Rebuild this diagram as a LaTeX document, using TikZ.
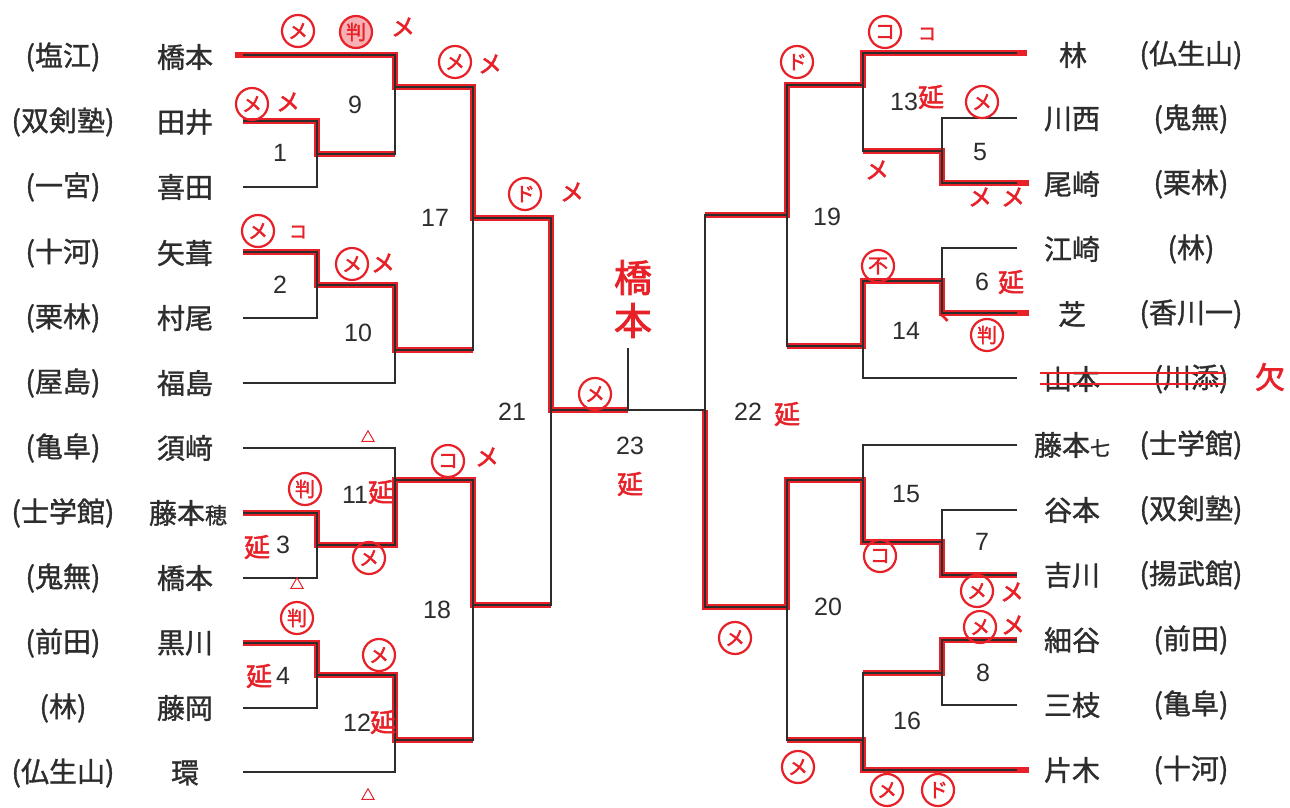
\documentclass[tikz,border=0pt]{standalone}
\usepackage{fontspec}
\setmainfont{Liberation Sans}
\newfontfamily\jp{Noto Sans CJK JP}
\newfontfamily\jpb[FakeBold=1.2]{Noto Sans CJK JP}
\newfontfamily\jph[FakeBold=2]{Noto Sans CJK JP}
\definecolor{ink}{RGB}{45,45,45}
\definecolor{hand}{RGB}{232,32,40}
\tikzset{
 ln/.style={line width=2.2pt, draw=ink},
 win/.style={line width=6.5pt, draw=hand},
 nm/.style={font=\jpb\fontsize{28}{30}\selectfont, text=ink, inner sep=0pt, anchor=center},
 numlab/.style={font=\fontsize{25}{25}\selectfont, text=ink, inner sep=0pt},
 circ/.style={circle, draw=hand, line width=2.2pt, text=hand, inner sep=0pt, minimum size=32pt, font=\jph\fontsize{20}{20}\selectfont},
 mk/.style={text=hand, inner sep=0pt, font=\jph\fontsize{24}{24}\selectfont},
 enc/.style={text=hand, inner sep=0pt, font=\jph\fontsize{26}{26}\selectfont},
 tri/.style={text=hand, inner sep=0pt, font=\jph\fontsize{14}{14}\selectfont},
}
\begin{document}
\begin{tikzpicture}[x=1pt,y=-1pt]
\useasboundingbox[fill=white] (0,0) rectangle (1290,808);
% ---- left player line starts
\coordinate (a1) at (243,55);  \coordinate (a2) at (243,121);
\coordinate (a3) at (243,187); \coordinate (a4) at (243,252);
\coordinate (a5) at (243,318); \coordinate (a6) at (243,383);
\coordinate (a7) at (243,448); \coordinate (a8) at (243,513);
\coordinate (a9) at (243,578); \coordinate (a10) at (243,643);
\coordinate (a11) at (243,708); \coordinate (a12) at (243,772);
% ---- right player line ends
\coordinate (b1) at (1017,53);  \coordinate (b2) at (1017,118);
\coordinate (b3) at (1017,183); \coordinate (b4) at (1017,248);
\coordinate (b5) at (1017,313); \coordinate (b6) at (1017,378);
\coordinate (b7) at (1017,445); \coordinate (b8) at (1017,510);
\coordinate (b9) at (1017,575); \coordinate (b10) at (1017,640);
\coordinate (b11) at (1017,705); \coordinate (b12) at (1017,770);
% ---- match points
\coordinate (m1) at (317,154);  \coordinate (m2) at (317,285);
\coordinate (m3) at (317,545);  \coordinate (m4) at (317,675);
\coordinate (m9) at (395,87);   \coordinate (m10) at (395,350);
\coordinate (m11) at (395,480); \coordinate (m12) at (395,740);
\coordinate (m17) at (473,218); \coordinate (m18) at (473,605);
\coordinate (m21) at (551,410);
\coordinate (m5) at (942,151);  \coordinate (m6) at (942,281);
\coordinate (m7) at (942,542);  \coordinate (m8) at (942,673);
\coordinate (m13) at (863,85);  \coordinate (m14) at (863,346);
\coordinate (m15) at (863,480); \coordinate (m16) at (863,740);
\coordinate (m19) at (787,215); \coordinate (m20) at (787,607);
\coordinate (m22) at (705,410);
\coordinate (champ) at (628,348);
% ---- red winner paths
\draw[win] ([xshift=-8pt]a1) -| (m9) -- (m9 -| m17) -- (m17) -- (m17 -| m21) -- (m21) -- (m21 -| champ);
\draw[win] (a2) -| (m1) -- (m1 -| m9);
\draw[win] (a4) -| (m2) -- (m2 -| m10) -- (m10) -- (m10 -| m17);
\draw[win] (a8) -| (m3) -- (m3 -| m11) -- (m11) -- (m11 -| m18) -- (m18) -- (m18 -| m21);
\draw[win] (a10) -| (m4) -- (m4 -| m12) -- (m12) -- (m12 -| m18);
\draw[win] ([xshift=10pt]b1) -| (m13) -- (m13 -| m19) -- (m19) -- (m19 -| m22);
\draw[win] ([xshift=12pt]b3) -| (m5) -- (m5 -| m13);
\draw[win] ([xshift=12pt]b5) -| (m6) -- (m6 -| m14) -- (m14) -- (m14 -| m19);
\draw[win] (b9) -| (m7) -- (m7 -| m15) -- (m15) -- (m15 -| m20) -- (m20) -- (m20 -| m22) -- (m22);
\draw[win] (b10) -| (m8) -- (m8 -| m16);
\draw[win] ([xshift=12pt]b12) -| (m16) -- (m16 -| m20);
% ---- black bracket
\draw[ln] (a2) -| (m1) |- (a3);
\draw[ln] (a4) -| (m2) |- (a5);
\draw[ln] (a8) -| (m3) |- (a9);
\draw[ln] (a10) -| (m4) |- (a11);
\draw[ln] (a1) -| (m9) |- (m1);
\draw[ln] (m2) -| (m10) |- (a6);
\draw[ln] (a7) -| (m11) |- (m3);
\draw[ln] (m4) -| (m12) |- (a12);
\draw[ln] (m9) -| (m17) |- (m10);
\draw[ln] (m11) -| (m18) |- (m12);
\draw[ln] (m17) -| (m21) |- (m18);
\draw[ln] (m21) -- (m22);
\draw[ln] (champ) -- (champ |- m21);
\draw[ln] (b2) -| (m5) |- (b3);
\draw[ln] (b4) -| (m6) |- (b5);
\draw[ln] (b8) -| (m7) |- (b9);
\draw[ln] (b10) -| (m8) |- (b11);
\draw[ln] (b1) -| (m13) |- (m5);
\draw[ln] (m6) -| (m14) |- (b6);
\draw[ln] (b7) -| (m15) |- (m7);
\draw[ln] (m8) -| (m16) |- (b12);
\draw[ln] (m13) -| (m19) |- (m14);
\draw[ln] (m15) -| (m20) |- (m16);
\draw[ln] (m19) -| (m22) |- (m20);
% ---- left names
\node[nm] (g1) at (63,57) {(塩江)};   \node[nm] (p1) at (185,57) {橋本};
\node[nm] (g2) at (63,122) {(双剣塾)}; \node[nm] (p2) at (185,122) {田井};
\node[nm] (g3) at (63,187) {(一宮)};   \node[nm] (p3) at (185,187) {喜田};
\node[nm] (g4) at (63,253) {(十河)};   \node[nm] (p4) at (185,253) {矢葺};
\node[nm] (g5) at (63,318) {(栗林)};   \node[nm] (p5) at (185,318) {村尾};
\node[nm] (g6) at (63,383) {(屋島)};   \node[nm] (p6) at (185,383) {福島};
\node[nm] (g7) at (63,448) {(亀阜)};   \node[nm] (p7) at (185,448) {須﨑};
\node[nm] (g8) at (63,513) {(士学館)}; \node[nm] (p8) at (188,513) {藤本{\fontsize{22}{22}\selectfont 穂}};
\node[nm] (g9) at (63,578) {(鬼無)};   \node[nm] (p9) at (185,578) {橋本};
\node[nm] (g10) at (63,643) {(前田)};  \node[nm] (p10) at (185,643) {黒川};
\node[nm] (g11) at (63,708) {(林)};    \node[nm] (p11) at (185,708) {藤岡};
\node[nm] (g12) at (63,773) {(仏生山)};\node[nm] (p12) at (185,773) {環};
% ---- right names
\node[nm] (q1) at (1073,55) {林};     \node[nm] (h1) at (1191,55) {(仏生山)};
\node[nm] (q2) at (1072,119) {川西};  \node[nm] (h2) at (1191,119) {(鬼無)};
\node[nm] (q3) at (1072,184) {尾崎};  \node[nm] (h3) at (1191,184) {(栗林)};
\node[nm] (q4) at (1072,249) {江崎};  \node[nm] (h4) at (1191,249) {(林)};
\node[nm] (q5) at (1072,314) {芝};    \node[nm] (h5) at (1191,314) {(香川一)};
\node[nm] (q6) at (1072,379) {山本};  \node[nm] (h6) at (1191,379) {(川添)};
\node[nm] (q7) at (1072,445) {藤本{\fontsize{20}{20}\selectfont 七}}; \node[nm] (h7) at (1191,445) {(士学館)};
\node[nm] (q8) at (1072,510) {谷本};  \node[nm] (h8) at (1191,510) {(双剣塾)};
\node[nm] (q9) at (1072,575) {吉川};  \node[nm] (h9) at (1191,575) {(揚武館)};
\node[nm] (q10) at (1072,640) {細谷}; \node[nm] (h10) at (1191,640) {(前田)};
\node[nm] (q11) at (1072,705) {三枝}; \node[nm] (h11) at (1191,705) {(亀阜)};
\node[nm] (q12) at (1072,770) {片木}; \node[nm] (h12) at (1191,770) {(十河)};
% ---- match numbers
\node[numlab] (n9) at (355,105) {9};   \node[numlab] (n1) at (280,153) {1};
\node[numlab] (n17) at (435,218) {17}; \node[numlab] (n2) at (280,285) {2};
\node[numlab] (n10) at (358,333) {10}; \node[numlab] (n21) at (512,412) {21};
\node[numlab] (n11) at (355,495) {11}; \node[numlab] (n3) at (283,545) {3};
\node[numlab] (n18) at (437,610) {18}; \node[numlab] (n4) at (283,676) {4};
\node[numlab] (n12) at (357,723) {12}; \node[numlab] (n23) at (630,446) {23};
\node[numlab] (n13) at (904,102) {13}; \node[numlab] (n5) at (980,152) {5};
\node[numlab] (n19) at (827,217) {19}; \node[numlab] (n6) at (982,282) {6};
\node[numlab] (n14) at (906,331) {14}; \node[numlab] (n22) at (748,412) {22};
\node[numlab] (n15) at (906,494) {15}; \node[numlab] (n7) at (982,542) {7};
\node[numlab] (n20) at (828,607) {20}; \node[numlab] (n8) at (983,673) {8};
\node[numlab] (n16) at (907,721) {16};
% ---- red annotations, left
\node[circ] (c1) at (298,31) {メ};
\node[circ, fill=hand!35] (c2) at (356,32) {判};
\node[mk] (x1) at (403,27) {メ};
\node[circ] (c3) at (252,104) {メ};
\node[mk] (x2) at (288,102) {メ};
\node[circ] (c4) at (258,231) {メ};
\node[mk, font=\jph\fontsize{18}{18}\selectfont] (k1) at (298,232) {コ};
\node[circ] (c5) at (352,264) {メ};
\node[mk] (x3) at (383,263) {メ};
\node[circ] (c6) at (455,62) {メ};
\node[mk] (x4) at (490,64) {メ};
\node[circ] (c7) at (525,194) {ド};
\node[mk] (x5) at (572,192) {メ};
\node[circ] (c8) at (595,394) {メ};
\node[text=hand, inner sep=0pt, align=center, font=\jph\fontsize{38}{43}\selectfont] (win) at (633,299) {橋\\本};
\node[enc] (e23) at (630,484) {延};
\node[enc] (e22) at (787,414) {延};
\node[circ] (c9) at (735,638) {メ};
\node[circ] (c10) at (798,767) {メ};
\node[tri] (t1) at (368,436) {△};
\node[circ] (c11) at (305,489) {判};
\node[enc] (e11) at (381,492) {延};
\node[enc] (e3) at (257,547) {延};
\node[circ] (c12) at (369,558) {メ};
\node[tri] (t2) at (297,583) {△};
\node[circ] (c13) at (297,618) {判};
\node[circ] (c14) at (379,655) {メ};
\node[enc] (e4) at (259,676) {延};
\node[enc] (e12) at (383,722) {延};
\node[tri] (t3) at (368,794) {△};
\node[circ] (c15) at (448,461) {コ};
\node[mk] (x6) at (487,457) {メ};
% ---- red annotations, right
\node[circ] (c16) at (797,62) {ド};
\node[circ] (c17) at (885,32) {コ};
\node[mk, font=\jph\fontsize{18}{18}\selectfont] (k2) at (927,34) {コ};
\node[enc] (e13) at (931,97) {延};
\node[circ] (c18) at (982,102) {メ};
\node[mk] (x7) at (877,170) {メ};
\node[mk] (x8) at (980,197) {メ};
\node[mk] (x9) at (1013,197) {メ};
\node[circ] (c19) at (878,266) {不};
\node[enc] (e6) at (1011,282) {延};
\node[mk] (dt) at (952,318) {、};
\node[circ] (c20) at (987,335) {判};
\coordinate (s1) at (1040,373); \coordinate (s2) at (1225,373);
\coordinate (s3) at (1040,384); \coordinate (s4) at (1225,384);
\draw[hand, line width=2.4pt] (s1) -- (s2);
\draw[hand, line width=2.4pt] (s3) -- (s4);
\node[enc, font=\jph\fontsize{30}{30}\selectfont] (kt) at (1270,377) {欠};
\node[circ] (c21) at (880,556) {コ};
\node[circ] (c22) at (977,591) {メ};
\node[mk] (x10) at (1012,592) {メ};
\node[circ] (c23) at (980,627) {メ};
\node[mk] (x11) at (1013,625) {メ};
\node[circ] (c24) at (887,790) {メ};
\node[circ] (c25) at (938,790) {ド};
\end{tikzpicture}
\end{document}
